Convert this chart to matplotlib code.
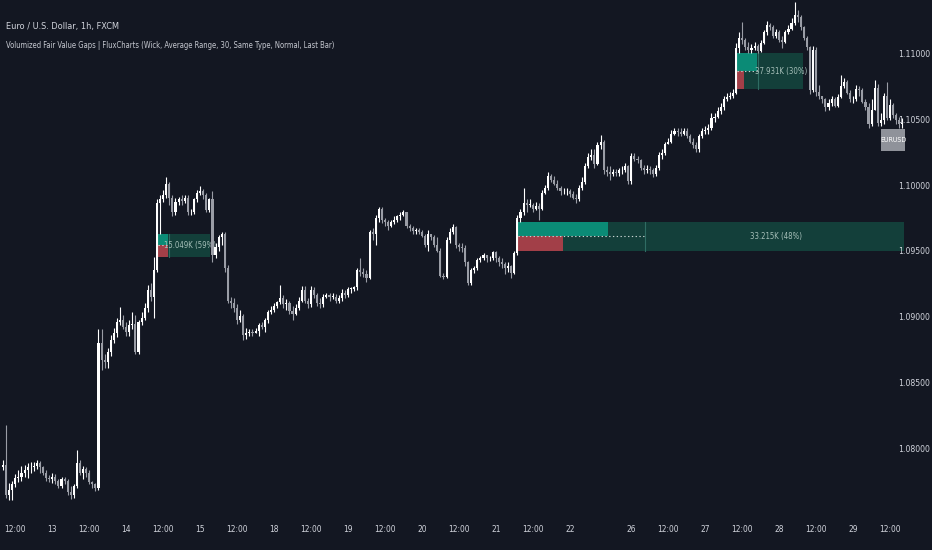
import matplotlib
matplotlib.use("Agg")
import matplotlib.pyplot as plt
from matplotlib.patches import Rectangle
import matplotlib.transforms as mtrans
import numpy as np

# ---------------- data (prices in pips, i.e. price * 10000) ----------------
open_first = 10786
close_pips = [
    10788, 10765, 10769, 10773, 10778, 10779, 10782, 10784, 10786, 10786,
    10787, 10789, 10786, 10782, 10778, 10777, 10779, 10776, 10772, 10777,
    10776, 10767, 10765, 10772, 10789, 10782, 10785, 10782, 10775, 10773,
    10770, 10881, 10868, 10866, 10874, 10883, 10888, 10897, 10898, 10893,
    10889, 10894, 10895, 10874, 10897, 10900, 10907, 10921, 10916, 10936,
    10987, 10990, 10993, 11002, 10991, 10980, 10988, 10990, 10989, 10991,
    10980, 10980, 10990, 10995, 10996, 10993, 10982, 10990, 10948, 10954,
    10961, 10964, 10938, 10913, 10911, 10907, 10898, 10901, 10887, 10888,
    10889, 10888, 10890, 10894, 10893, 10898, 10904, 10906, 10909, 10912,
    10915, 10910, 10911, 10905, 10903, 10907, 10913, 10921, 10913, 10910,
    10921, 10917, 10911, 10910, 10916, 10917, 10916, 10916, 10913, 10915,
    10919, 10917, 10922, 10922, 10923, 10936, 10935, 10933, 10930, 10965,
    10964, 10976, 10983, 10974, 10973, 10970, 10973, 10974, 10977, 10978,
    10980, 10970, 10968, 10966, 10967, 10965, 10962, 10955, 10964, 10961,
    10955, 10951, 10932, 10931, 10959, 10965, 10969, 10955, 10954, 10953,
    10942, 10926, 10936, 10938, 10944, 10945, 10948, 10945, 10945, 10950,
    10945, 10942, 10941, 10938, 10939, 10934, 10949, 10976, 10980, 10987,
    10986, 10986, 10983, 10985, 10983, 10995, 10999, 11008, 11005, 11002,
    10999, 10996, 10996, 10996, 10994, 10991, 10990, 10999, 11003, 11015,
    11022, 11024, 11017, 11031, 11034, 11012, 11011, 11009, 11011, 11010,
    11012, 11012, 11015, 11004, 11023, 11021, 11020, 11014, 11012, 11013,
    11012, 11009, 11014, 11024, 11025, 11032, 11034, 11040, 11042, 11041,
    11040, 11042, 11038, 11034, 11031, 11028, 11038, 11042, 11043, 11044,
    11052, 11053, 11057, 11060, 11066, 11068, 11069, 11071, 11105, 11113,
    11111, 11106, 11104, 11105, 11107, 11103, 11109, 11117, 11123, 11121,
    11114, 11117, 11111, 11110, 11117, 11120, 11124, 11130, 11129, 11121,
    11113, 11106, 11073, 11104, 11072, 11069, 11066, 11060, 11063, 11066,
    11061, 11068, 11076, 11079, 11071, 11066, 11066, 11074, 11073, 11064,
    11060, 11047, 11058, 11075, 11048, 11050, 11069, 11052, 11062, 11054,
    11050, 11047, 11048,
]
high_pips = [
    10792, 10818, 10774, 10776, 10781, 10784, 10787, 10788, 10789, 10790,
    10790, 10792, 10791, 10787, 10784, 10780, 10782, 10781, 10777, 10779,
    10779, 10777, 10772, 10773, 10799, 10792, 10787, 10786, 10784, 10776,
    10774, 10891, 10891, 10872, 10877, 10887, 10892, 10900, 10908, 10902,
    10897, 10898, 10904, 10902, 10898, 10904, 10911, 10925, 10926, 10946,
    10990, 10993, 10997, 11007, 11003, 10993, 10991, 10992, 10993, 10993,
    10993, 10983, 10991, 10997, 11000, 10998, 10995, 10991, 10996, 10957,
    10963, 10965, 10965, 10940, 10916, 10915, 10910, 10906, 10903, 10892,
    10891, 10891, 10892, 10896, 10897, 10900, 10906, 10909, 10911, 10913,
    10925, 10917, 10914, 10913, 10909, 10910, 10916, 10924, 10924, 10915,
    10924, 10923, 10919, 10915, 10918, 10919, 10919, 10919, 10918, 10917,
    10922, 10921, 10923, 10923, 10924, 10938, 10945, 10938, 10936, 10967,
    10968, 10978, 10984, 10984, 10976, 10974, 10974, 10977, 10978, 10980,
    10982, 10980, 10971, 10970, 10968, 10968, 10967, 10964, 10967, 10964,
    10963, 10961, 10953, 10934, 10961, 10968, 10971, 10970, 10957, 10957,
    10955, 10943, 10938, 10939, 10945, 10947, 10949, 10948, 10947, 10951,
    10951, 10947, 10945, 10942, 10942, 10940, 10951, 10978, 10983, 10999,
    10990, 10990, 10987, 10988, 10987, 10997, 11001, 11011, 11009, 11008,
    11005, 11000, 10999, 10999, 10998, 10996, 10994, 11001, 11007, 11018,
    11025, 11028, 11028, 11034, 11039, 11035, 11015, 11015, 11013, 11013,
    11014, 11015, 11018, 11016, 11025, 11025, 11023, 11021, 11016, 11016,
    11015, 11014, 11016, 11026, 11028, 11034, 11037, 11043, 11044, 11044,
    11044, 11044, 11044, 11040, 11037, 11034, 11040, 11044, 11046, 11047,
    11056, 11056, 11060, 11063, 11069, 11071, 11072, 11074, 11109, 11117,
    11125, 11113, 11110, 11108, 11110, 11108, 11111, 11119, 11126, 11124,
    11123, 11120, 11119, 11114, 11119, 11123, 11128, 11140, 11134, 11130,
    11122, 11114, 11107, 11107, 11106, 11077, 11069, 11067, 11066, 11069,
    11068, 11070, 11085, 11082, 11081, 11073, 11069, 11077, 11076, 11075,
    11066, 11063, 11066, 11081, 11078, 11056, 11071, 11079, 11066, 11063,
    11056, 11053, 11052,
]
low_pips = [
    10784, 10763, 10761, 10761, 10771, 10775, 10776, 10779, 10778, 10782,
    10783, 10785, 10782, 10780, 10776, 10775, 10774, 10773, 10770, 10770,
    10773, 10765, 10762, 10763, 10770, 10780, 10777, 10779, 10773, 10770,
    10768, 10769, 10860, 10862, 10862, 10871, 10881, 10885, 10894, 10891,
    10886, 10886, 10891, 10872, 10872, 10894, 10898, 10904, 10913, 10900,
    10935, 10964, 10988, 10991, 10986, 10977, 10978, 10986, 10986, 10987,
    10978, 10978, 10979, 10988, 10993, 10990, 10980, 10980, 10942, 10945,
    10951, 10955, 10935, 10911, 10907, 10904, 10895, 10897, 10883, 10884,
    10886, 10886, 10888, 10886, 10891, 10889, 10896, 10903, 10904, 10907,
    10910, 10907, 10906, 10903, 10898, 10902, 10906, 10912, 10911, 10907,
    10908, 10915, 10909, 10907, 10908, 10915, 10913, 10914, 10911, 10911,
    10913, 10915, 10916, 10919, 10920, 10921, 10932, 10931, 10927, 10929,
    10959, 10955, 10973, 10972, 10970, 10967, 10969, 10971, 10973, 10974,
    10977, 10968, 10966, 10964, 10964, 10964, 10961, 10954, 10951, 10959,
    10954, 10950, 10931, 10929, 10930, 10957, 10964, 10953, 10951, 10950,
    10939, 10925, 10925, 10934, 10936, 10942, 10944, 10942, 10943, 10944,
    10942, 10939, 10938, 10933, 10935, 10930, 10933, 10948, 10973, 10978,
    10980, 10984, 10980, 10982, 10974, 10982, 10994, 10997, 11003, 11001,
    10997, 10993, 10994, 10993, 10992, 10990, 10987, 10989, 10997, 11002,
    11014, 11020, 11014, 11016, 11028, 11009, 11008, 11005, 11008, 11008,
    11008, 11009, 11011, 11002, 11002, 11019, 11018, 11012, 11009, 11010,
    11009, 11007, 11008, 11012, 11021, 11024, 11032, 11033, 11039, 11038,
    11038, 11039, 11037, 11033, 11029, 11026, 11026, 11037, 11040, 11040,
    11043, 11049, 11052, 11055, 11058, 11065, 11066, 11067, 11070, 11101,
    11108, 11104, 11101, 11101, 11104, 11101, 11102, 11108, 11115, 11119,
    11113, 11113, 11110, 11105, 11109, 11116, 11119, 11123, 11125, 11119,
    11111, 11104, 11070, 11072, 11069, 11066, 11063, 11057, 11058, 11061,
    11060, 11060, 11067, 11075, 11070, 11064, 11063, 11065, 11069, 11063,
    11058, 11044, 11046, 11060, 11046, 11046, 11047, 11050, 11050, 11052,
    11047, 11044, 11044,
]

time_tick_idx = [4, 16, 28, 40, 52, 64, 76, 88, 100, 112, 124, 136, 148, 160,
                 172, 184, 204, 216, 228, 240, 252, 264, 276, 288]
time_tick_lbl = ["12:00", "13", "12:00", "14", "12:00", "15", "12:00", "18",
                 "12:00", "19", "12:00", "20", "12:00", "21", "12:00", "22",
                 "26", "12:00", "27", "12:00", "28", "12:00", "29", "12:00"]
price_ticks = [1.08000, 1.08500, 1.09000, 1.09500, 1.10000, 1.10500, 1.11000]

# Fair value gaps: middle candle index, end bar, split bar, volume fractions, label
fvg_mid = [50, 167, 238]
fvg_end = [67.2, 292.6, 259.7]
fvg_split = [53.9, 208.4, 245.1]
fvg_bull_frac = [0.92, 0.71, 0.95]
fvg_bear_frac = [0.92, 0.35, 0.33]
fvg_label = ["15.049K (59%)", "33.215K (48%)", "37.931K (30%)"]

title = "Euro / U.S. Dollar, 1h, FXCM"
subtitle = ("Volumized Fair Value Gaps | FluxCharts (Wick, Average Range, 30, "
            "Same Type, Normal, Last Bar)")
symbol = "EURUSD"

# ---------------- derived ----------------
close = np.array(close_pips) / 1e4
high = np.array(high_pips) / 1e4
low = np.array(low_pips) / 1e4
opn = np.concatenate([[open_first / 1e4], close[:-1]])
high = np.maximum(high, np.maximum(opn, close))
low = np.minimum(low, np.minimum(opn, close))
n = len(close)
xs = np.arange(n)

BG = "#131722"
UP = "#ffffff"
DOWN = "#9a9da6"
TXT = "#d1d4dc"
plt.rcParams["font.family"] = ["DejaVu Sans"]
plt.rcParams["font.stretch"] = "condensed"
FK = dict(family="DejaVu Sans", stretch="condensed")

W, H = 932, 550
fig = plt.figure(figsize=(W / 100, H / 100), dpi=100, facecolor=BG)
ax = fig.add_axes([0, 0, 1, 1])
ax.set_facecolor(BG)
ax.set_xlim(-0.974, 301.6)
ax.set_ylim(1.072314, 1.114170)
ax.axis("off")

# ---------------- FVG boxes ----------------
for k in range(len(fvg_mid)):
    m = fvg_mid[k]
    top = low[m + 1]
    bot = high[m - 1]
    left = m + 0.3
    right = fvg_end[k]
    split = fvg_split[k]
    mid = (top + bot) / 2
    box = Rectangle((left, bot), right - left, top - bot, facecolor="#133f3a",
                    edgecolor="none", zorder=1)
    ax.add_patch(box)
    sec = split - left
    ax.add_patch(Rectangle((left, mid), sec * fvg_bull_frac[k], top - mid,
                           facecolor="#0b8b76", edgecolor="none", zorder=1.2))
    ax.add_patch(Rectangle((left, bot), sec * fvg_bear_frac[k], mid - bot,
                           facecolor="#a23f48", edgecolor="none", zorder=1.2))
    ax.plot([left, split], [mid, mid], color="#c9d4d2", lw=0.8,
            linestyle=(0, (1.2, 2.2)), zorder=1.3)
    ax.plot([split, split], [bot, top], color="#2f6c63", lw=0.8, zorder=1.3)
    t = ax.text((split + right) / 2 + 0.3, mid, fvg_label[k], color="#a6bfb9",
                fontsize=5.6, ha="center", va="center", zorder=1.4, **FK)
    t.set_clip_path(box)

# ---------------- candles ----------------
cols = np.where(close >= opn, UP, DOWN)
body_lo = np.minimum(opn, close)
body_h = np.maximum(np.abs(close - opn), 0.00004)
ax.vlines(xs, low, high, colors=cols, linewidth=0.8, zorder=2.9)
ax.bar(xs, body_h, bottom=body_lo, width=0.68, color=cols, linewidth=0,
       zorder=3)

# ---------------- labels ----------------
fig.text(6 / W, 1 - 27 / H, title, color=TXT, fontsize=6.6, ha="left",
         va="center", **FK)
fig.text(6 / W, 1 - 45 / H, subtitle, color="#c5c8d0", fontsize=5.5,
         ha="left", va="center", **FK)

trx = mtrans.blended_transform_factory(ax.transData, ax.transAxes)
for i, lbl in zip(time_tick_idx, time_tick_lbl):
    ax.text(i, 1 - 530 / H, lbl, transform=trx, color=TXT, fontsize=6,
            ha="center", va="center", **FK)

try_ = mtrans.blended_transform_factory(ax.transAxes, ax.transData)
for p in price_ticks:
    ax.text(930 / W, p, f"{p:.5f}", transform=try_, color=TXT, fontsize=6.2,
            ha="right", va="center", **FK)

# symbol label below the last bar (box in pixel units)
px, py = ax.transData.transform((n - 1, low[-1]))
cx, cy = px - 9, py - 12
ax.add_patch(Rectangle((cx - 12, cy - 11), 24, 22, transform=None,
                       facecolor="#8f929a", edgecolor="none", zorder=5))
ax.text(cx, cy, symbol, transform=None, ha="center", va="center",
        color="#ffffff", fontsize=5.0, zorder=6, **FK)

fig.savefig("out.png", dpi=100, facecolor=BG)
